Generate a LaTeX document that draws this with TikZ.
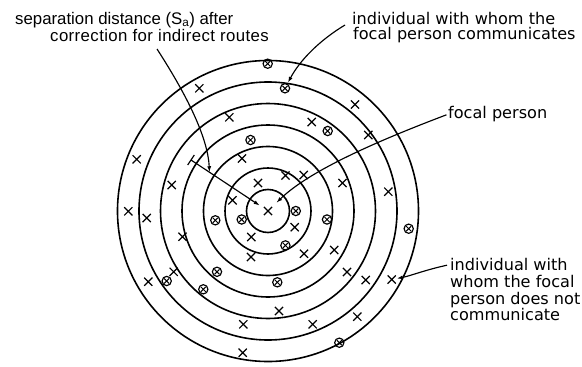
\documentclass[tikz,border=0pt]{standalone}
\usepackage{fontspec}
\setmainfont{DejaVu Sans}
\newfontfamily\lfont{Liberation Sans}
\newfontfamily\lfontw[LetterSpace=2.4]{Liberation Sans}
\usetikzlibrary{arrows.meta,shapes.misc,calc}
\begin{document}
\begin{tikzpicture}[x=1pt,y=-1pt,
  ring/.style={line width=1.6pt},
  xmark/.style={cross out,draw,line width=1.2pt,minimum size=7pt,inner sep=0pt},
  omark/.style={circle,draw,line width=1.15pt,minimum size=9.3pt,inner sep=0pt,
    path picture={\draw[line width=1pt]
      ($(path picture bounding box.center)+(-2.5,-2.5)$) -- ($(path picture bounding box.center)+(2.5,2.5)$)
      ($(path picture bounding box.center)+(-2.5,2.5)$) -- ($(path picture bounding box.center)+(2.5,-2.5)$);}},
  lead/.style={line width=1.15pt},
  tipped/.style={-{Latex[length=6pt,width=4pt]}},
  rlab/.style={font=\fontsize{16.1}{16}\selectfont,inner sep=0pt,anchor=base west},
  llab/.style={font=\lfont\fontsize{16.8}{17}\selectfont,inner sep=0pt,anchor=base west},
  llabw/.style={font=\lfontw\fontsize{16.8}{17}\selectfont,inner sep=0pt,anchor=base west},
]
\useasboundingbox (0,0) rectangle (582,367);
% focal person
\node[xmark] (focal) at (268,211) {};
% rings
\foreach \k in {1,...,7}
  \draw[ring] (focal.center) circle[radius=21.5pt*\k];
% crosses: individuals without communication
\foreach \p [count=\i] in {(199.3,88.3),(229.3,117.3),(311.7,122),(355,104.5),(368.3,135),
  (136.7,159.3),(242,158.5),(171.7,185),(258,183),(285.5,175.5),(303.7,175),(342.5,183),
  (388.3,191.7),(128.3,211.3),(146.7,218),(232.5,200.3),(294.7,227.2),(251.3,237),
  (182.5,236.7),(304,253.7),(334.2,250),(251,257),(173.7,271.8),(347,272),(148.3,281.7),
  (365.7,280),(279,311),(243.3,324.3),(312.7,324.3),(357.3,316.7),(242.7,352.7)}
  \node[xmark] (x\i) at \p {};
\node[xmark] (xnot) at (391.7,279.5) {};
% circled crosses: individuals with communication
\foreach \p [count=\i] in {(267.7,63.7),(327.7,131),(250.5,140),(295.8,211),(241.7,219.5),
  (215.3,220.3),(327,219.5),(408.7,228.7),(285.4,245.4),(217,271.8),(166.7,281),
  (203.3,289.3),(277.3,282.3),(339.3,342.7)}
  \node[omark] (o\i) at \p {};
\node[omark] (ocom) at (285,88.3) {};
% labels
\node[llab] (sep1) at (15,24) {separation distance (S\textsubscript{a}) after};
\node[llabw] (sep2) at (50,41.5) {correction for indirect routes};
\node[rlab] (com1) at (352,24) {individual with whom the};
\node[rlab] (com2) at (353,39.3) {focal person communicates};
\node[rlab] (fp) at (448,118.3) {focal person};
\node[rlab] (nc1) at (450,270.7) {individual with};
\node[rlab] (nc2) at (450,287.7) {whom the focal};
\node[rlab] (nc3) at (450,304.3) {person does not};
\node[rlab] (nc4) at (450,320.7) {communicate};
% dimension line (separation distance)
\coordinate (dimEnd) at (191,160);
\draw[lead,tipped,shorten >=5pt] (dimEnd) -- (focal);
\draw[lead] ($(dimEnd)!6pt!90:(focal)$) -- ($(dimEnd)!6pt!-90:(focal)$);
\coordinate (dimPt) at ($(dimEnd)!0.24!(focal)$);
% leaders
\coordinate (sepStart) at (157,49);
\draw[lead,tipped] (sepStart) .. controls (190,100) and (208,140) .. (dimPt);
\coordinate (comStart) at ($(com1.base west)+(-7,1)$);
\draw[lead,tipped,shorten >=1pt] (comStart) .. controls (320,40) and (300,60) .. (ocom);
\coordinate (fpStart) at ($(fp.base west)+(-1.5,-3.5)$);
\draw[lead,tipped,shorten >=6pt] (fpStart) .. controls (380,140) and (310,170) .. (focal);
\coordinate (ncStart) at ($(nc1.base west)+(-3,-5.5)$);
\draw[lead,tipped,shorten >=1pt] (ncStart) .. controls (425,270) and (410,276) .. (xnot);
\end{tikzpicture}
\end{document}
